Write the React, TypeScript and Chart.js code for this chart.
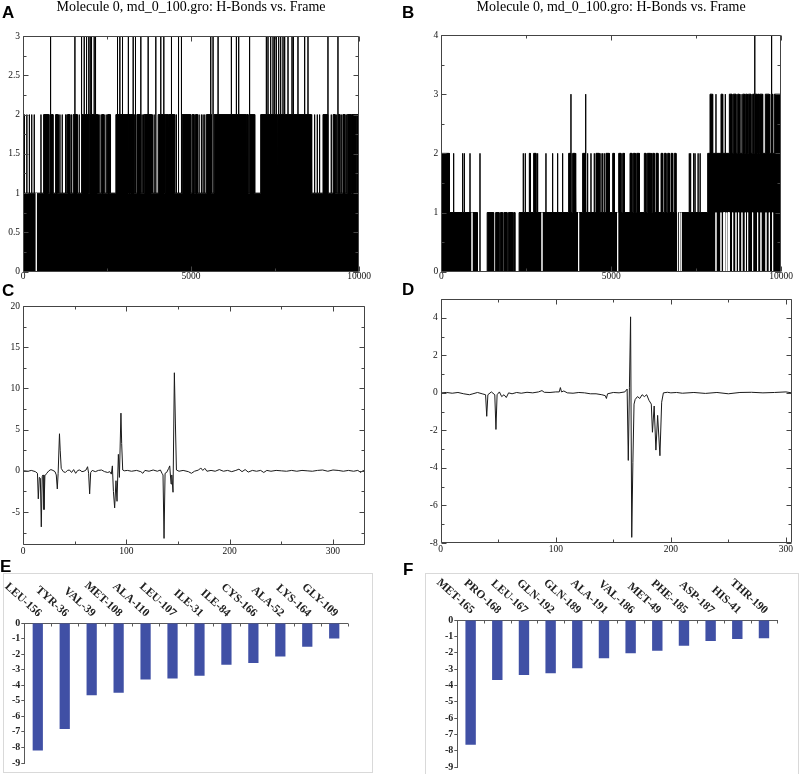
import React, { useEffect, useRef } from 'react';
import { Chart, registerables } from 'chart.js';

Chart.register(...registerables);

const SERIF = "'Liberation Serif', 'Times New Roman', serif";
const TITLE = 'Molecule 0, md_0_100.gro: H-Bonds vs. Frame';

// ---------- Panel A: H-bond count vs frame (run-length description) ----------
const A_FRAMES: [number, number] = [0, 10000];
const A_XTICKS = [0, 5000, 10000];
const A_YTICKS = [0, 0.5, 1, 1.5, 2, 2.5, 3];
const A_BLOCKS2: [number, number][] = [
  [613, 765], [800, 842], [852, 892], [970, 1030], [1327, 1396], [1495, 1614], [1743, 1795],
  [1810, 1955], [1970, 2220], [2338, 2397], [2516, 2585], [2764, 3140], [3155, 3200], [3215, 3309],
  [3388, 3507], [3606, 3824], [4022, 4215], [4228, 4320], [4335, 4518], [4736, 4993], [5033, 5092],
  [5132, 5192], [5459, 5608], [5687, 6640], [6655, 6700], [6740, 6896], [7074, 7560], [7580, 8580],
  [8928, 9076], [9230, 9290], [9380, 9430], [9520, 9580], [9650, 9760], [9775, 9900], [9915, 10000],
];
const A_SPIKES2: number[] = [
  45, 115, 190, 260, 335, 535, 1059, 1099, 1168, 1267, 1307, 1446, 1674, 2248, 2288, 2417, 2476,
  2605, 3348, 3547, 3586, 3854, 3903, 3953, 4567, 4637, 5241, 5310, 5360, 5410, 8600, 8680, 8759,
  8828, 9175, 9324, 9473, 9621,
];
const A_SPIKES3: number[] = [
  821, 1545, 1743, 1822, 1892, 1961, 2001, 2040, 2119, 2159, 2813, 2883, 2962, 3130, 3279, 3348,
  3507, 3725, 3953, 4101, 4191, 4419, 4617, 4716, 5588, 5657, 5806, 6202, 6351, 6420, 6747, 7243,
  7292, 7372, 7441, 7491, 7540, 7610, 7669, 7738, 7788, 7887, 8006, 8046, 8184, 8383, 8482, 9076, 9374,
];
const A_WHITE_LINES: number[] = [395];

// ---------- Panel B ----------
const B_FRAMES: [number, number] = [0, 10000];
const B_XTICKS = [0, 5000, 10000];
const B_YTICKS = [0, 1, 2, 3, 4];
const B_BLOCKS2: [number, number][] = [
  [0, 236], [2591, 2620], [2718, 2787], [3748, 3817], [3866, 3945], [4160, 4259], [4553, 4651],
  [4847, 4945], [5045, 5094], [5222, 5290], [5340, 5389], [5555, 5614], [5653, 5712], [5752, 5830],
  [5977, 6026], [6065, 6144], [6164, 6183], [6222, 6271], [6320, 6379], [6468, 6517], [6566, 6615],
  [6664, 6713], [6762, 6811], [6860, 6909], [7841, 10000],
];
const B_ZERO: [number, number][] = [
  [1060, 1350], [1540, 1600], [1700, 1740], [1800, 1840], [1935, 1975], [2100, 2130], [2165, 2290], [6925, 6985],
];
const B_BLOCKS3: [number, number][] = [
  [7910, 7988], [8233, 8283], [8479, 8557], [8596, 8675], [8724, 8773], [8871, 8930], [8960, 9010],
  [9040, 9116], [9165, 9200], [9220, 9290], [9310, 9350], [9370, 9460], [9538, 9656], [9705, 9754], [9803, 10000],
];
const B_SPIKES2: number[] = [
  364, 629, 678, 845, 1139, 2414, 2473, 2836, 3081, 3278, 3425, 3572, 3964, 4308, 4406, 4504, 4700,
  4749, 4798, 4947, 7301, 7340, 7430, 7470, 7560, 7620,
];
const B_SPIKES3: number[] = [3817, 4239, 8086, 8361, 8822];
const B_SPIKES4: number[] = [9234, 9724];
const B_WHITE_LINES: number[] = [
  904, 2964, 4043, 5192, 7010, 7060, 8086, 8233, 8400, 8577, 8675, 8753, 8851, 8950, 9018, 9165,
  9312, 9410, 9558, 9656, 9754,
];
const B_WHITE_BLOCKS: [number, number][] = [[8310, 8345], [8440, 8475]];

// ---------- Panel C: per-residue energy ----------
const C_POINTS: [number, number][] = [
  [1, 0], [5, -0.05], [8, 0.05], [12, -0.1], [14, -0.3], [14.8, -3.4], [15.8, -0.8], [16.8, -0.9],
  [17.7, -6.8], [18.6, -0.7], [19.4, -0.5], [20.3, -4.7], [21.2, -0.6], [23, -0.3], [25, 0], [27, 0.15],
  [29, 0.05], [31, -0.1], [32.2, -0.5], [33.2, -2.2], [34, -0.3], [35.3, 4.5], [36, 2.5], [37, 0.3],
  [39, -0.1], [41, -0.2], [43, 0.05], [45, 0.1], [47, -0.2], [49, 0.15], [51, -0.3], [53, 0.05],
  [55, 0.1], [57, -0.1], [59, -0.05], [61, 0.1], [62.5, 0.5], [63.5, -0.3], [64.5, -2.8], [65.5, -0.2],
  [67, 0.05], [70, -0.1], [73, 0.05], [76, 0.1], [79, -0.1], [82, -0.2], [84, -0.1], [85.5, -0.4],
  [86.5, 0.6], [87.5, -2.5], [88.7, -4.5], [90, -1.2], [91, -3.7], [92.3, 2.0], [93.3, -0.8],
  [94.8, 7.0], [95.5, 3.3], [96.5, 0.1], [98, 0], [101, 0.05], [105, -0.05], [110, 0.05], [114, -0.1],
  [116, -0.3], [118, 0.05], [122, -0.05], [126, 0.1], [130, -0.05], [133, 0.1], [134.5, -0.3],
  [135.5, -0.5], [136.5, -8.2], [137.5, -0.3], [139, -0.2], [141, 0.3], [142, 0.6], [143.3, -1.6],
  [144, -0.5], [145.2, -2.6], [146.5, 11.9], [147.5, 5.8], [148.5, 0.1], [151, -0.05], [155, 0.05],
  [160, -0.1], [163, -0.3], [166, -0.05], [170, 0.1], [172, 0.35], [174, 0.05], [176, 0.3], [178, -0.05],
  [182, 0.05], [186, -0.05], [190, 0.15], [194, -0.05], [198, 0.05], [202, -0.1], [206, 0.05], [209, 0.2],
  [212, -0.1], [215, 0.15], [218, -0.15], [222, 0.05], [226, -0.05], [230, 0.05], [233, -0.2], [236, 0.05],
  [240, -0.05], [245, 0.05], [250, 0], [255, -0.05], [260, 0.05], [265, -0.05], [270, 0.05], [275, 0],
  [280, -0.05], [285, 0.05], [290, 0.1], [295, -0.05], [300, 0.1], [305, 0.05], [310, -0.05], [315, 0.05],
  [320, -0.05], [324, 0.05], [327, -0.2], [329, 0.05], [331, -0.1],
];
const C_RANGE = { xMax: 331, yMin: -9, yMax: 20 };
const C_XTICKS = [0, 100, 200, 300];
const C_YTICKS = [-5, 0, 5, 10, 15, 20];

// ---------- Panel D ----------
const D_POINTS: [number, number][] = [
  [1, 0], [5, 0.02], [10, -0.02], [15, 0.02], [20, -0.05], [25, -0.1], [28, -0.05], [32, 0.02],
  [36, -0.05], [39, -0.1], [40, -1.25], [41, -0.1], [44, 0.05], [47, -0.1], [48, -1.95], [49, -0.1],
  [51, 0.05], [53, -0.2], [55, -0.1], [57, -0.25], [59, 0], [62, -0.05], [66, 0.02], [70, -0.02],
  [75, 0.03], [80, 0], [85, 0.05], [88, 0.12], [90, 0.03], [95, 0.02], [100, 0.05], [103, 0.05],
  [104, 0.28], [105, 0.05], [107, 0.1], [110, 0], [115, -0.02], [120, 0.02], [125, 0], [130, -0.05],
  [135, -0.05], [140, -0.1], [143, -0.15], [144, -0.3], [145, -0.05], [150, 0.02], [155, 0], [160, 0.05],
  [162, 0.2], [163, -3.6], [164, 0.3], [165, 4.05], [166, -7.7], [167, -3.7], [168, -0.6], [169, -0.35],
  [171, -0.2], [173, -0.3], [175, -0.1], [177, -0.2], [179, -0.1], [181, -0.4], [183, -0.6], [184, -2.1],
  [185.5, -0.7], [187, -3.05], [188.5, -1.2], [190.5, -3.35], [192, -0.5], [193.5, 0], [197, 0.03],
  [200, 0], [205, 0.02], [210, -0.02], [220, 0.02], [230, -0.03], [240, 0.02], [250, -0.05], [260, 0.02],
  [270, 0.03], [280, 0], [290, 0.02], [300, 0.05], [305, 0],
];
const D_RANGE = { xMax: 305, yMin: -8, yMax: 5 };
const D_XTICKS = [0, 100, 200, 300];
const D_YTICKS = [-8, -6, -4, -2, 0, 2, 4];

// ---------- Panels E / F ----------
const E_LABELS = ['LEU-156', 'TYR-36', 'VAL-39', 'MET-108', 'ALA-110', 'LEU-107', 'ILE-31', 'ILE-84', 'CYS-166', 'ALA-52', 'LYS-164', 'GLY-109'];
const E_VALUES = [-8.19, -6.81, -4.65, -4.48, -3.64, -3.56, -3.39, -2.68, -2.57, -2.16, -1.52, -1.0];
const F_LABELS = ['MET-165', 'PRO-168', 'LEU-167', 'GLN-192', 'GLN-189', 'ALA-191', 'VAL-186', 'MET-49', 'PHE-185', 'ASP-187', 'HIS-41', 'THR-190'];
const F_VALUES = [-7.64, -3.67, -3.36, -3.26, -2.95, -2.34, -2.04, -1.89, -1.57, -1.28, -1.16, -1.12];
const BAR_Y = { min: -9, max: 0 };

// ---------- helpers ----------
type Block = [number, number, number];
function envelope(base: number, blocks: Block[], spikes: [number, number][], x0: number, x1: number) {
  const level = (x: number) => {
    let l = base;
    for (const [s, e, v] of blocks) if (x > s && x < e) l = v;
    return l;
  };
  const bps = new Set<number>([x0, x1]);
  blocks.forEach(([s, e]) => { bps.add(s); bps.add(e); });
  spikes.forEach(([x]) => bps.add(x));
  const sorted = [...bps].filter((b) => b >= x0 && b <= x1).sort((a, b) => a - b);
  const pts: { x: number; y: number }[] = [];
  for (const b of sorted) {
    const left = b > x0 ? level(b - 1e-6) : level(b + 1e-6);
    const right = b < x1 ? level(b + 1e-6) : left;
    let peak = Math.max(left, right);
    for (const [x, v] of spikes) if (x === b) peak = Math.max(peak, v);
    pts.push({ x: b, y: left }, { x: b, y: peak }, { x: b, y: right });
  }
  return pts;
}

const frameTicks = {
  id: 'frameTicks',
  afterDatasetsDraw(chart: any, _args: any, o: any) {
    if (!o || !o.xMajor) return;
    const { ctx, chartArea: a } = chart;
    const xs = chart.scales.x;
    const ys = chart.scales.y;
    const L = Math.round(a.left) + 0.5;
    const R = Math.round(a.right) - 0.5;
    const T = Math.round(a.top) + 0.5;
    const B = Math.round(a.bottom) - 0.5;
    ctx.save();
    ctx.strokeStyle = o.color;
    ctx.lineWidth = 1;
    ctx.beginPath();
    ctx.rect(L, T, R - L, B - T);
    const walk = (min: number, max: number, minor: number, major: number, cb: (v: number, m: boolean) => void) => {
      const s = Math.ceil(min / minor - 1e-9);
      const e = Math.floor(max / minor + 1e-9);
      for (let k = s; k <= e; k++) {
        const v = k * minor;
        const r = v / major;
        cb(v, Math.abs(r - Math.round(r)) < 1e-6);
      }
    };
    walk(xs.min, xs.max, o.xMinor, o.xMajor, (v, m) => {
      const p = Math.round(xs.getPixelForValue(v)) + 0.5;
      const len = m ? o.major : o.minor;
      ctx.moveTo(p, B); ctx.lineTo(p, B - len);
      ctx.moveTo(p, T); ctx.lineTo(p, T + len);
    });
    walk(ys.min, ys.max, o.yMinor, o.yMajor, (v, m) => {
      const p = Math.round(ys.getPixelForValue(v)) + 0.5;
      const len = m ? o.major : o.minor;
      ctx.moveTo(L, p); ctx.lineTo(L + len, p);
      ctx.moveTo(R, p); ctx.lineTo(R - len, p);
    });
    ctx.stroke();
    ctx.restore();
  },
};

const diagLabels = {
  id: 'diagLabels',
  afterDraw(chart: any, _args: any, o: any) {
    const { ctx, chartArea: a } = chart;
    const xs = chart.scales.x;
    const labels: string[] = chart.data.labels;
    ctx.save();
    ctx.font = o.font;
    ctx.fillStyle = o.color;
    ctx.textAlign = 'right';
    ctx.textBaseline = 'middle';
    labels.forEach((lab, i) => {
      const px = xs.getPixelForValue(i);
      ctx.save();
      ctx.translate(px + o.dx, a.top + o.dy);
      ctx.rotate((o.angle * Math.PI) / 180);
      ctx.fillText(lab, 0, 0);
      ctx.restore();
    });
    ctx.strokeStyle = o.tickColor;
    ctx.lineWidth = 1;
    ctx.beginPath();
    const top = Math.round(a.top) + 0.5;
    for (let i = 0; i <= labels.length; i++) {
      const p = Math.round(xs.getPixelForValue(i - 0.5)) + 0.5;
      ctx.moveTo(p, top);
      ctx.lineTo(p, top + o.tickLen);
    }
    ctx.stroke();
    ctx.restore();
  },
};

const tickFont = { family: SERIF, size: 9.5, lineHeight: 1 };
const fmt = (v: any) => String(v);
const fixedTicks = (vals: number[]) => (s: any) => { s.ticks = vals.map((value) => ({ value })); };

function hbondConfig(hi: any[], lo: any[], xt: number[], yt: number[], pad: any, titleGap: number, ft: any) {
  return {
    type: 'line',
    data: {
      datasets: [
        { data: lo, borderColor: '#ffffff', backgroundColor: '#ffffff', borderWidth: 1, fill: 'origin', pointRadius: 0, tension: 0, order: 0, clip: 0 },
        { data: hi, borderColor: '#000000', backgroundColor: '#000000', borderWidth: 1, fill: 'origin', pointRadius: 0, tension: 0, order: 1, clip: 0 },
      ],
    },
    options: {
      animation: false, responsive: false, devicePixelRatio: 1, events: [],
      layout: { padding: pad },
      plugins: {
        legend: { display: false }, tooltip: { enabled: false },
        title: { display: true, text: TITLE, color: '#000', fullSize: false, font: { family: SERIF, size: 14, weight: 'normal', lineHeight: 1 }, padding: { top: 0, bottom: titleGap } },
        frameTicks: ft,
      },
      scales: {
        x: { type: 'linear', min: xt[0], max: xt[xt.length - 1], afterBuildTicks: fixedTicks(xt), ticks: { font: tickFont, color: '#111', padding: 0, maxRotation: 0, autoSkip: false, callback: fmt }, grid: { display: false, drawTicks: false }, border: { display: false }, afterFit: (s: any) => { s.height = 12; } },
        y: { type: 'linear', min: yt[0], max: yt[yt.length - 1], afterBuildTicks: fixedTicks(yt), ticks: { font: tickFont, color: '#111', padding: 3, autoSkip: false, callback: fmt }, grid: { display: false, drawTicks: false }, border: { display: false }, afterFit: (s: any) => { s.width = 20; } },
      },
    },
    plugins: [frameTicks],
  };
}

function lineConfig(points: [number, number][], r: any, xt: number[], yt: number[], pad: any, xH: number, xPad: number, ft: any) {
  return {
    type: 'line',
    data: { datasets: [{ data: points.map(([x, y]) => ({ x, y })), borderColor: '#1a1a1a', borderWidth: 1, pointRadius: 0, fill: false, tension: 0, clip: 0 }] },
    options: {
      animation: false, responsive: false, devicePixelRatio: 1, events: [],
      layout: { padding: pad },
      plugins: { legend: { display: false }, tooltip: { enabled: false }, frameTicks: ft },
      scales: {
        x: { type: 'linear', min: 0, max: r.xMax, afterBuildTicks: fixedTicks(xt), ticks: { font: tickFont, color: '#111', padding: xPad, maxRotation: 0, autoSkip: false, callback: fmt }, grid: { display: false, drawTicks: false }, border: { display: false }, afterFit: (s: any) => { s.height = xH; } },
        y: { type: 'linear', min: r.yMin, max: r.yMax, afterBuildTicks: fixedTicks(yt), ticks: { font: tickFont, color: '#111', padding: 3, autoSkip: false, callback: fmt }, grid: { display: false, drawTicks: false }, border: { display: false }, afterFit: (s: any) => { s.width = 20; } },
      },
    },
    plugins: [frameTicks],
  };
}

function barConfig(labels: string[], values: number[], pad: any, barPct: number, lab: any) {
  const axisColor = '#595959';
  return {
    type: 'bar',
    data: { labels, datasets: [{ data: values, backgroundColor: '#4050a5', borderWidth: 0, barPercentage: barPct, categoryPercentage: 1 }] },
    options: {
      animation: false, responsive: false, devicePixelRatio: 1, events: [],
      layout: { padding: pad },
      plugins: { legend: { display: false }, tooltip: { enabled: false }, diagLabels: lab },
      scales: {
        x: { position: 'top', ticks: { display: false }, grid: { display: false }, border: { display: true, color: axisColor, width: 1 }, afterFit: (s: any) => { s.height = 0; } },
        y: { min: BAR_Y.min, max: BAR_Y.max, ticks: { stepSize: 1, font: { family: SERIF, size: 10, weight: 'bold' }, color: '#222', padding: 1, autoSkip: false }, grid: { display: true, drawOnChartArea: false, drawTicks: true, tickLength: 3, color: axisColor }, border: { display: true, color: axisColor, width: 1 }, afterFit: (s: any) => { s.width = 20; } },
      },
    },
    plugins: [diagLabels],
  };
}

function ChartBox({ make, left, top, width, height }: { make: () => any; left: number; top: number; width: number; height: number }) {
  const ref = useRef<HTMLCanvasElement>(null);
  useEffect(() => {
    const chart = new Chart(ref.current as HTMLCanvasElement, make());
    return () => chart.destroy();
  }, []);
  return <canvas ref={ref} width={width} height={height} style={{ position: 'absolute', left, top, width, height }} />;
}

const letterStyle = (left: number, top: number): React.CSSProperties => ({
  position: 'absolute', left, top, fontFamily: "'Liberation Sans', Arial, sans-serif", fontWeight: 'bold', fontSize: 17, lineHeight: '17px', color: '#000',
});

export default function App() {
  const aHi = () => envelope(1, A_BLOCKS2.map(([s, e]) => [s, e, 2] as Block), [...A_SPIKES2.map((x) => [x, 2] as [number, number]), ...A_SPIKES3.map((x) => [x, 3] as [number, number])], A_FRAMES[0], A_FRAMES[1]);
  const aLo = () => envelope(0, [], A_WHITE_LINES.map((x) => [x, 1] as [number, number]), A_FRAMES[0], A_FRAMES[1]);
  const bHi = () => envelope(1, [
    ...B_BLOCKS2.map(([s, e]) => [s, e, 2] as Block),
    ...B_ZERO.map(([s, e]) => [s, e, 0] as Block),
    ...B_BLOCKS3.map(([s, e]) => [s, e, 3] as Block),
  ], [
    ...B_SPIKES2.map((x) => [x, 2] as [number, number]),
    ...B_SPIKES3.map((x) => [x, 3] as [number, number]),
    ...B_SPIKES4.map((x) => [x, 4] as [number, number]),
  ], B_FRAMES[0], B_FRAMES[1]);
  const bLo = () => envelope(0, B_WHITE_BLOCKS.map(([s, e]) => [s, e, 1] as Block), B_WHITE_LINES.map((x) => [x, 1] as [number, number]), B_FRAMES[0], B_FRAMES[1]);

  const ftCommon = { color: '#444', major: 5, minor: 3 };
  const labelFont = `bold 11.5px ${SERIF}`;

  return (
    <div style={{ position: 'absolute', left: 0, top: 0, width: 800, height: 774, background: '#fff', overflow: 'hidden' }}>
      <div style={{ position: 'absolute', left: 3, top: 573, width: 370, height: 200, border: '1px solid #d9d9d9', boxSizing: 'border-box' }} />
      <div style={{ position: 'absolute', left: 425, top: 573, width: 374, height: 215, border: '1px solid #d9d9d9', boxSizing: 'border-box' }} />

      <ChartBox left={0} top={0} width={400} height={285}
        make={() => hbondConfig(aHi(), aLo(), A_XTICKS, A_YTICKS, { left: 3, right: 41, top: 0, bottom: 1.3 }, 22, { ...ftCommon, xMajor: 5000, xMinor: 2500, yMajor: 0.5, yMinor: 0.25 })} />
      <ChartBox left={400} top={0} width={400} height={285}
        make={() => hbondConfig(bHi(), bLo(), B_XTICKS, B_YTICKS, { left: 21.3, right: 19, top: 0, bottom: 1.3 }, 21, { ...ftCommon, xMajor: 5000, xMinor: 2500, yMajor: 1, yMinor: 0.5 })} />
      <ChartBox left={0} top={285} width={400} height={270}
        make={() => lineConfig(C_POINTS, C_RANGE, C_XTICKS, C_YTICKS, { left: 3, right: 35, top: 21, bottom: 0 }, 10, 1.5, { ...ftCommon, xMajor: 100, xMinor: 50, yMajor: 5, yMinor: 2.5 })} />
      <ChartBox left={400} top={285} width={400} height={270}
        make={() => lineConfig(D_POINTS, D_RANGE, D_XTICKS, D_YTICKS, { left: 20.7, right: 8.3, top: 14, bottom: 0 }, 12, 2, { ...ftCommon, xMajor: 100, xMinor: 50, yMajor: 2, yMinor: 1 })} />
      <ChartBox left={0} top={560} width={400} height={214}
        make={() => barConfig(E_LABELS, E_VALUES, { left: 4.3, right: 52.3, top: 63, bottom: 11 }, 0.38, { font: labelFont, color: '#222', dx: 2, dy: -8, angle: 42, tickColor: '#595959', tickLen: 3 })} />
      <ChartBox left={400} top={560} width={400} height={214}
        make={() => barConfig(F_LABELS, F_VALUES, { left: 37.3, right: 22.7, top: 60, bottom: 6.7 }, 0.39, { font: labelFont, color: '#222', dx: 2, dy: -8, angle: 42, tickColor: '#595959', tickLen: 3 })} />

      <div style={letterStyle(2, 3.5)}>A</div>
      <div style={letterStyle(402, 3.5)}>B</div>
      <div style={letterStyle(2, 281.5)}>C</div>
      <div style={letterStyle(402, 280.5)}>D</div>
      <div style={letterStyle(0, 558)}>E</div>
      <div style={letterStyle(403, 561)}>F</div>
    </div>
  );
}
